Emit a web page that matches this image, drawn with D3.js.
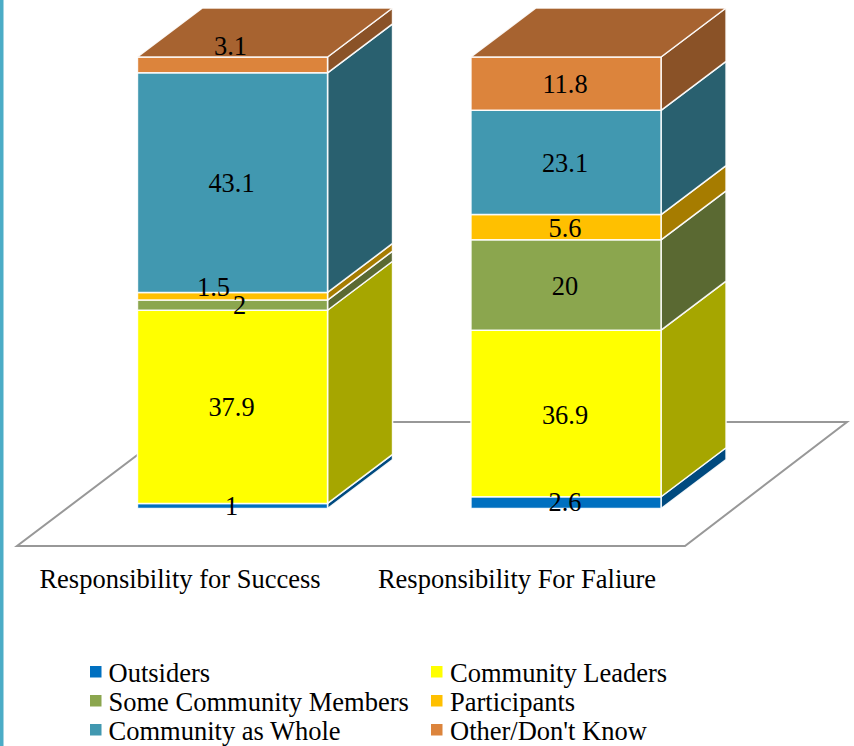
<!DOCTYPE html>
<html><head><meta charset="utf-8">
<script src="https://cdn.jsdelivr.net/npm/d3@7"></script>
<style>html,body{margin:0;padding:0;background:#fff}svg{display:block}text{font-family:"Liberation Serif",serif;fill:#000}</style>
</head><body><svg id="c" width="854" height="746"></svg>
<script>
const categories = ["Responsibility for Success", "Responsibility For Faliure"];
const seriesNames = ["Outsiders", "Community Leaders", "Some Community Members", "Participants", "Community as Whole", "Other/Don't Know"];
const outsiders = [1, 2.6];
const communityLeaders = [37.9, 36.9];
const someCommunityMembers = [2, 20];
const participants = [1.5, 5.6];
const communityAsWhole = [43.1, 23.1];
const otherDontKnow = [3.1, 11.8];
const frontColors = ["#0070c0", "#ffff00", "#8ba64e", "#ffc000", "#4198b0", "#dc843c"];
const sideColors = ["#004a7f", "#a6a600", "#5a6932", "#a67c00", "#29606f", "#8a5227"];
const topColor = "#a76330";

const seriesValues = [outsiders, communityLeaders, someCommunityMembers, participants, communityAsWhole, otherDontKnow];
const rows = categories.map((c, i) => {
  const r = {category: c};
  seriesNames.forEach((s, j) => r[s] = seriesValues[j][i]);
  return r;
});
const stacked = d3.stack().keys(seriesNames).offset(d3.stackOffsetExpand)(rows);

const svg = d3.select("#c");
const x = d3.scaleBand().domain(categories).range([65.75, 732.75]).paddingInner(0.43).paddingOuter(0.215);
const y = d3.scaleLinear().domain([0, 1]).range([508.5, 57]);
const depthX = 65, depthY = -49;
const line = d3.line();

// side strip
svg.append("rect").attr("x", 0).attr("y", 0).attr("width", 3.5).attr("height", 746).attr("fill", "#4bacc6");

// floor
const floorFront = 546, floorBack = 422;
svg.append("path")
  .attr("d", line([[17, floorFront], [685, floorFront], [847, floorBack], [181, floorBack]]) + "Z")
  .attr("fill", "#fff").attr("stroke", "#989898").attr("stroke-width", 2);

// bars
const g = svg.append("g").attr("stroke", "#fff").attr("stroke-opacity", 0.9).attr("stroke-width", 1.5).attr("stroke-linejoin", "round");
categories.forEach((c, ci) => {
  const x0 = x(c), x1 = x0 + x.bandwidth();
  stacked.forEach((s, si) => {
    const yb = y(s[ci][0]), yt = y(s[ci][1]);
    g.append("path").attr("fill", sideColors[si])
      .attr("d", line([[x1, yb], [x1 + depthX, yb + depthY], [x1 + depthX, yt + depthY], [x1, yt]]) + "Z");
    g.append("rect").attr("x", x0).attr("y", yt).attr("width", x.bandwidth()).attr("height", Math.max(0, yb - yt)).attr("fill", frontColors[si]);
  });
  const yTop = y(1);
  g.append("path").attr("fill", topColor)
    .attr("d", line([[x0, yTop], [x0 + depthX, yTop + depthY], [x1 + depthX, yTop + depthY], [x1, yTop]]) + "Z");
});

// value labels
const nudges = {"0-0": [0, -1], "0-1": [0, -1], "0-2": [8, -1], "0-3": [-18, -10], "0-5": [-1, -20], "1-0": [0, -1], "1-1": [0, 1]};
stacked.forEach((s, si) => {
  categories.forEach((c, ci) => {
    const n = nudges[ci + "-" + si] || [0, 0];
    svg.append("text")
      .attr("x", x(c) + x.bandwidth() / 2 + n[0] - 1)
      .attr("y", (y(s[ci][0]) + y(s[ci][1])) / 2 + n[1] + 0.5)
      .attr("dy", "0.35em").attr("text-anchor", "middle").attr("font-size", 26.4)
      .text(seriesValues[si][ci]);
  });
});

// category axis
const xAxis = d3.scaleBand().domain(categories).range([11.5, 685.5]);
const ax = svg.append("g").attr("transform", "translate(0,569)")
  .call(d3.axisBottom(xAxis).tickSize(0).tickPadding(0));
ax.select(".domain").remove();
ax.selectAll("text").attr("font-size", 26.5).attr("font-family", "Liberation Serif").attr("fill", "#000").attr("dy", "0.71em");

// legend
const legendX = [90, 431], textX = [108.5, 450], legendY = [682, 711, 740];
seriesNames.forEach((name, i) => {
  const col = i % 2, row = Math.floor(i / 2);
  svg.append("rect").attr("x", legendX[col]).attr("y", legendY[row] - 16).attr("width", 11.5).attr("height", 11.5).attr("fill", frontColors[i]);
  svg.append("text").attr("x", textX[col]).attr("y", legendY[row]).attr("font-size", 26.5).text(name);
});
</script></body></html>
